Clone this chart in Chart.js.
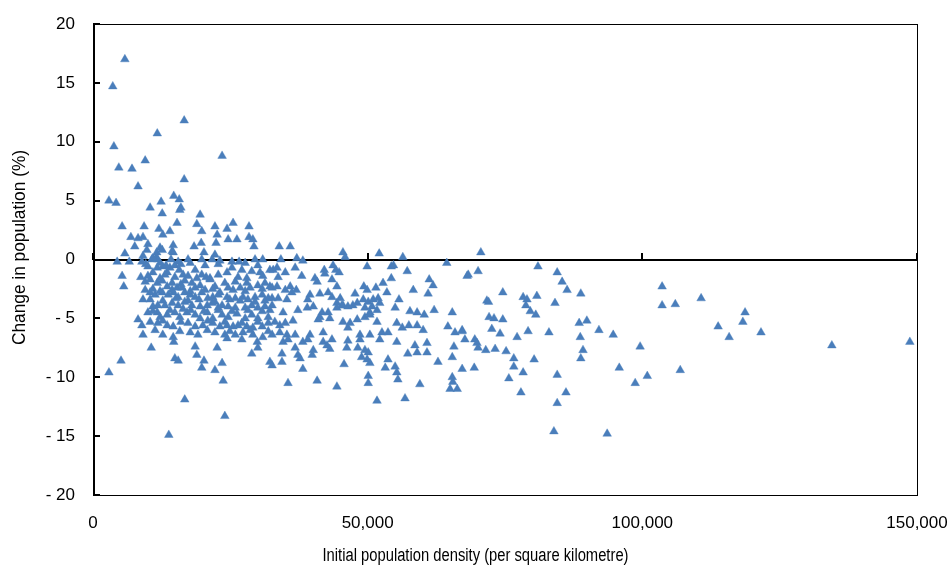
<!DOCTYPE html>
<html>
<head>
<meta charset="utf-8">
<script src="https://cdn.jsdelivr.net/npm/chart.js@4/dist/chart.umd.min.js"></script>
<style>
  html, body { margin: 0; padding: 0; background: #ffffff; }
  #wrap { width: 951px; height: 569px; position: relative; }
</style>
</head>
<body>
<div id="wrap"><canvas id="chart"></canvas></div>
<script>
// Initial population density (persons per km²) for each area
const density = [
  5800,3600,3800,11700,16600,23500,4700,7100,9500,8200,16600,2900,4200,14700,10400,12400,12600,15700,15800,16000,
  5300,9300,19500,18900,19800,22200,24400,25500,28400,22600,24600,26200,28400,29100,29300,12000,14000,6900,8200,9100,
  12700,10000,7600,5800,14600,18400,19700,20200,22200,33900,35900,12200,11500,14600,15300,11600,12600,9800,14400,9100,
  22400,45500,52100,70600,45900,56400,37100,
  4400,6600,8900,10700,11800,14200,15500,17300,19800,21700,23100,25300,26600,29500,30900,34200,38200,10900,
  5300,5600,10000,10900,11700,12700,13500,14000,14900,15700,16400,18600,19800,21300,24400,25300,27100,28900,30400,32200,
  9500,10400,11700,12600,13500,14400,15300,16000,16700,18000,18600,19500,21300,22200,23100,24000,24600,25900,26800,28000,28600,30000,31300,32200,
  10400,11300,12600,13700,14600,15500,16700,17700,18600,19800,20900,21800,22800,24400,24900,25900,27300,28200,29500,30800,31900,
  9100,10900,11800,13100,14400,15500,16700,18000,19500,20800,21700,22800,23500,24600,25900,27700,28900,30000,31300,32600,
  10000,11700,12200,13500,14900,15800,17100,18600,19500,20800,21800,23500,24600,26200,27700,28900,30000,31900,
  8200,11800,13500,14600,17300,18600,20000,21800,23100,24400,25500,26400,28000,29100,30800,31900,8900,
  9100,12700,14600,17700,19100,22200,24000,25900,27300,29100,30900,32600,
  14700,10600,18600,22600,24400,27100,28900,30000,29900,32200,32600,5100,2900,14900,15500,18900,20200,19800,22200,23500,23700,16700,24000,13800,
  49900,54300,54700,64400,32800,33500,35000,36800,43700,44200,44800,42100,42200,57200,68100,33700,38000,40400,40800,43500,
  54300,61200,61900,32600,33500,35000,35900,36200,37000,44400,49300,49900,51500,52800,58300,61000,
  32600,33700,35300,39500,39100,41300,42800,43500,45000,44400,45300,47700,49200,50100,51000,51900,52200,53500,55700,
  32200,34600,37300,39000,40100,41700,42800,44400,45500,46400,47300,48100,49500,50400,50800,51700,55000,57700,59000,60300,62100,65400,
  33100,34000,35000,36400,41300,41000,43100,45500,46800,48100,49500,50400,51700,55300,56300,57500,59000,60100,64600,65900,67200,
  34000,35300,36800,39500,41900,46400,48600,50400,52600,53700,34600,38200,39100,41900,46400,48600,55300,67700,
  35500,42600,43500,52200,58600,60800,65700,34400,34400,36800,37300,37700,39900,40100,43100,46200,48200,48900,49500,50100,49900,50400,
  53700,53200,55000,55300,55500,57300,59000,60800,62800,65400,67200,65400,65500,65000,66300,38200,45700,35500,40800,44400,50100,50100,59500,51700,56800,
  68300,70100,81000,84500,85400,86300,74600,71700,72000,78300,79000,80800,78800,79600,80600,84100,88800,103600,103600,106000,110700,118700,118300,
  72100,73000,74600,67200,72600,74100,79200,83000,88500,89900,92100,94700,77200,88700,113800,115800,121600,
  69500,69900,70100,71500,73200,75200,76600,80300,88800,89200,99600,134500,148700,
  69400,76600,78300,75700,77900,84500,86100,84500,95800,98700,100900,106900,83900,93600,
  // tightly packed low-density areas
  9600,12200,13300,16000,17700,20400,22800,27700,30000,
  8700,10000,12200,13100,14900,17300,18900,20600,22800,26400,28000,30900,
  9500,10900,12200,14400,16200,17700,20400,21800,25500,27700,30800,
  10400,12700,15100,17300,19300,22200,26800,29500,31300,
  10900,14000,16400,17800,20200,22800,25300,28200,30800,
  10400,12700,16000,20900,24000,27100,30000,
  11300,15800,20800,24900,28600,31900
];

// Change in population (%) for the same areas, in the same order
const change = [
  17.0,14.7,9.6,10.7,11.8,8.8,7.8,7.7,8.4,6.2,6.8,5.0,4.8,5.4,4.4,4.9,3.9,5.1,4.2,4.4,
  2.8,2.8,3.8,3.0,2.4,2.8,2.6,3.1,2.8,2.1,1.7,1.7,1.9,1.7,1.1,2.6,2.4,1.9,1.8,1.9,
  2.1,1.3,1.1,0.5,1.2,1.1,1.4,0.6,0.4,1.1,1.1,1.0,0.2,0.6,3.1,0.6,0.8,0.8,0.7,0.3,
  1.4,0.6,0.5,0.6,0.2,0.2,0.1,
  -0.2,-0.2,-0.2,0.0,0.0,0.0,-0.2,0.0,0.0,0.0,-0.1,-0.2,-0.2,0.0,0.0,0.0,-0.1,0.1,
  -1.4,-2.3,-0.6,-1.1,-0.7,-0.6,-1.1,-0.7,-0.5,-0.9,-1.3,-0.9,-1.3,-1.6,-1.1,-0.7,-0.9,-1.0,-1.1,-0.9,
  -1.9,-1.7,-2.0,-1.8,-2.3,-2.0,-2.4,-2.1,-1.8,-2.0,-2.4,-2.2,-1.7,-2.3,-2.8,-2.0,-2.4,-1.9,-2.4,-2.0,-2.4,-2.2,-2.0,-2.3,
  -2.8,-3.0,-2.8,-3.0,-2.8,-3.2,-2.8,-3.0,-3.2,-2.8,-3.3,-3.2,-3.0,-3.2,-3.4,-3.3,-3.2,-3.4,-3.2,-3.0,-3.3,
  -3.4,-4.0,-3.9,-3.9,-3.7,-3.9,-3.6,-3.9,-4.0,-3.9,-3.7,-4.1,-3.9,-4.0,-4.1,-4.1,-3.9,-4.1,-4.0,-3.9,
  -4.5,-4.5,-4.9,-4.7,-4.5,-4.9,-4.5,-4.7,-5.0,-4.5,-5.0,-4.7,-4.9,-4.6,-5.0,-4.7,-5.0,-4.9,
  -5.1,-5.4,-5.6,-5.7,-5.4,-5.7,-5.6,-5.4,-5.7,-5.6,-5.7,-5.6,-5.7,-5.8,-5.7,-5.4,-5.6,
  -6.4,-6.4,-6.6,-6.2,-6.4,-6.2,-6.4,-6.4,-6.2,-6.4,-6.6,-6.4,
  -7.0,-7.5,-7.4,-7.5,-6.7,-6.8,-8.0,-7.5,-7.0,-8.7,-9.0,-8.6,-9.6,-8.4,-8.6,-8.1,-8.6,-9.2,-9.4,-8.8,-10.3,-11.9,-13.3,-14.9,
  -0.6,-0.6,-0.5,-0.3,-0.9,-0.7,-1.1,-0.7,-0.5,-0.9,-1.1,-0.9,-1.2,-1.0,-1.4,-1.5,-1.4,-1.6,-1.9,-1.7,
  -1.6,-1.7,-2.2,-2.4,-2.3,-2.6,-2.3,-2.8,-2.6,-2.3,-2.3,-2.6,-2.4,-2.0,-2.6,-2.9,
  -3.3,-3.3,-3.4,-3.0,-3.4,-2.9,-2.8,-3.2,-3.3,-3.7,-3.9,-2.9,-3.4,-3.6,-3.4,-3.3,-3.7,-2.8,-3.4,
  -4.3,-4.5,-4.3,-4.1,-4.0,-4.5,-4.5,-4.1,-3.9,-4.0,-3.9,-3.7,-4.1,-4.5,-4.0,-4.3,-4.1,-4.4,-4.5,-4.7,-4.3,-4.5,
  -5.3,-5.6,-5.4,-5.2,-4.9,-5.1,-5.0,-5.3,-5.4,-5.1,-4.9,-4.7,-5.3,-5.4,-5.8,-5.6,-5.6,-6.0,-5.7,-6.2,-6.0,
  -6.2,-6.4,-6.4,-6.4,-6.2,-5.8,-6.4,-6.4,-6.2,-6.2,-7.0,-7.0,-6.8,-7.0,-6.9,-6.8,-7.0,-6.8,
  -6.8,-7.3,-6.8,-6.8,-7.3,-7.1,-7.4,-8.7,-8.0,-7.5,-8.1,-8.4,-8.1,-7.7,-7.6,-7.5,-7.5,-8.3,-7.7,-7.9,-8.5,-8.8,
  -8.5,-9.2,-9.1,-9.6,-10.2,-8.0,-7.9,-7.9,-8.7,-8.3,-9.3,-10.0,-10.4,-11.0,-11.0,-9.3,-8.9,-10.5,-10.3,-10.8,-9.9,-10.5,-10.6,-12.0,-11.8,
  -1.3,-1.0,-0.6,-1.1,-1.9,-2.6,-2.8,-3.5,-3.6,-3.2,-3.4,-3.1,-3.9,-4.4,-4.7,-3.7,-2.9,-2.3,-3.9,-3.8,-3.3,-4.5,-5.3,
  -4.9,-5.0,-5.1,-6.1,-5.9,-6.3,-6.1,-6.2,-5.4,-5.2,-6.0,-6.4,-6.6,-6.6,-5.7,-6.6,-6.2,
  -6.8,-7.1,-7.5,-7.7,-7.6,-7.8,-8.4,-8.5,-8.4,-7.7,-7.4,-7.3,-7.0,
  -9.2,-9.1,-9.6,-10.1,-11.3,-9.8,-11.3,-12.2,-9.2,-10.5,-9.9,-9.4,-14.6,-14.8,
  // tightly packed low-density areas
  -0.4,-0.3,-0.5,-0.4,-0.3,-0.5,-0.4,-0.3,-0.5,
  -1.5,-1.4,-1.6,-1.3,-1.5,-1.4,-1.6,-1.5,-1.3,-1.5,-1.6,-1.4,
  -2.6,-2.5,-2.7,-2.6,-2.4,-2.7,-2.6,-2.5,-2.6,-2.7,-2.5,
  -3.4,-3.5,-3.3,-3.5,-3.4,-3.6,-3.5,-3.6,-3.5,
  -4.4,-4.3,-4.2,-4.3,-4.4,-4.3,-4.4,-4.3,-4.4,
  -5.3,-5.2,-5.3,-5.2,-5.3,-5.4,-5.3,
  -6.0,-6.1,-6.0,-6.1,-6.0,-6.1
];

// Axis tick positions and titles
const xTicks = [0, 50000, 100000, 150000];
const yTicks = [-20, -15, -10, -5, 0, 5, 10, 15, 20];
const xTitle = 'Initial population density (per square kilometre)';
const yTitle = 'Change in population (%)';

const TICK_FONT = "'Liberation Sans', Arial, sans-serif";
const TITLE_FONT = "'Liberation Sans', Arial, sans-serif";
const MARK_COLOR = '#4a7ebb';

const points = density.map((d, i) => ({ x: d, y: change[i] }));

const formatX = v => Number(v).toLocaleString('en-US');
const formatY = v => (v < 0 ? '- ' + Math.abs(v) : String(v));

// Zero line with its small upward ticks, drawn beneath the markers
const zeroLine = {
  id: 'zeroLine',
  beforeDatasetsDraw(chart) {
    const { ctx, chartArea: a, scales: { x, y } } = chart;
    const y0 = Math.round(y.getPixelForValue(0));
    ctx.save();
    ctx.strokeStyle = '#000';
    ctx.lineWidth = 2;
    ctx.beginPath();
    ctx.moveTo(a.left, y0);
    ctx.lineTo(a.right, y0);
    ctx.stroke();
    xTicks.forEach(v => {
      const px = Math.round(x.getPixelForValue(v));
      ctx.beginPath();
      ctx.moveTo(px, y0 - 7);
      ctx.lineTo(px, y0);
      ctx.stroke();
    });
    ctx.restore();
  }
};

// Narrow-set title text: regular face squeezed along the reading direction
function drawSqueezed(ctx, text, cx, cy, angle, squeeze) {
  ctx.save();
  ctx.translate(cx, cy);
  ctx.rotate(angle);
  ctx.scale(squeeze, 1);
  ctx.fillText(text, 0, 0);
  ctx.restore();
}

// Box around the plot area with inward ticks on the value axis, plus axis titles
const plotFrame = {
  id: 'plotFrame',
  afterDatasetsDraw(chart) {
    const { ctx, chartArea: a, scales: { y } } = chart;
    ctx.save();
    ctx.strokeStyle = '#000';
    ctx.lineWidth = 1;
    ctx.strokeRect(Math.round(a.left) + 0.5, Math.round(a.top) + 0.5,
                   Math.round(a.right - a.left), Math.round(a.bottom - a.top));
    ctx.lineWidth = 2;
    ctx.beginPath();
    ctx.moveTo(Math.round(a.left) + 1, a.top);
    ctx.lineTo(Math.round(a.left) + 1, a.bottom + 1);
    ctx.stroke();
    yTicks.forEach(v => {
      const py = Math.round(y.getPixelForValue(v));
      ctx.beginPath();
      ctx.moveTo(a.left, py);
      ctx.lineTo(a.left + 7, py);
      ctx.stroke();
    });

    ctx.fillStyle = '#000';
    ctx.font = '18px ' + TITLE_FONT;
    ctx.textAlign = 'center';
    ctx.textBaseline = 'middle';
    drawSqueezed(ctx, xTitle, chart.width / 2, a.bottom + 61, 0, 0.82);
    drawSqueezed(ctx, yTitle, 20, (a.top + a.bottom) / 2 - 12, -Math.PI / 2, 0.96);
    ctx.restore();
  }
};

new Chart(document.getElementById('chart'), {
  type: 'scatter',
  data: {
    datasets: [{
      data: points,
      pointStyle: 'triangle',
      pointRadius: 5,
      pointHoverRadius: 5,
      backgroundColor: MARK_COLOR,
      borderColor: MARK_COLOR,
      borderWidth: 0.4
    }]
  },
  options: {
    responsive: true,
    maintainAspectRatio: false,
    animation: false,
    layout: { padding: { left: 0, right: 34, top: 24, bottom: 0 } },
    plugins: { legend: { display: false }, tooltip: { enabled: false } },
    scales: {
      x: {
        type: 'linear',
        min: 0,
        max: 150000,
        afterBuildTicks: s => { s.ticks = xTicks.map(v => ({ value: v })); },
        afterFit: s => { s.height = 74; s.paddingLeft = 0; s.paddingRight = 0; },
        grid: { display: false, drawTicks: false },
        border: { display: false },
        ticks: {
          callback: v => formatX(v),
          autoSkip: false,
          maxRotation: 0,
          padding: 18,
          color: '#000',
          font: { family: TICK_FONT, size: 17 }
        },
        title: { display: false }
      },
      y: {
        type: 'linear',
        min: -20,
        max: 20,
        afterBuildTicks: s => { s.ticks = yTicks.map(v => ({ value: v })); },
        afterFit: s => { s.width = 93; s.paddingTop = 0; s.paddingBottom = 0; },
        grid: { display: false, drawTicks: false },
        border: { display: false },
        ticks: {
          callback: v => formatY(v),
          padding: 18,
          color: '#000',
          font: { family: TICK_FONT, size: 17 }
        },
        title: { display: false }
      }
    }
  },
  plugins: [zeroLine, plotFrame]
});
</script>
</body>
</html>
